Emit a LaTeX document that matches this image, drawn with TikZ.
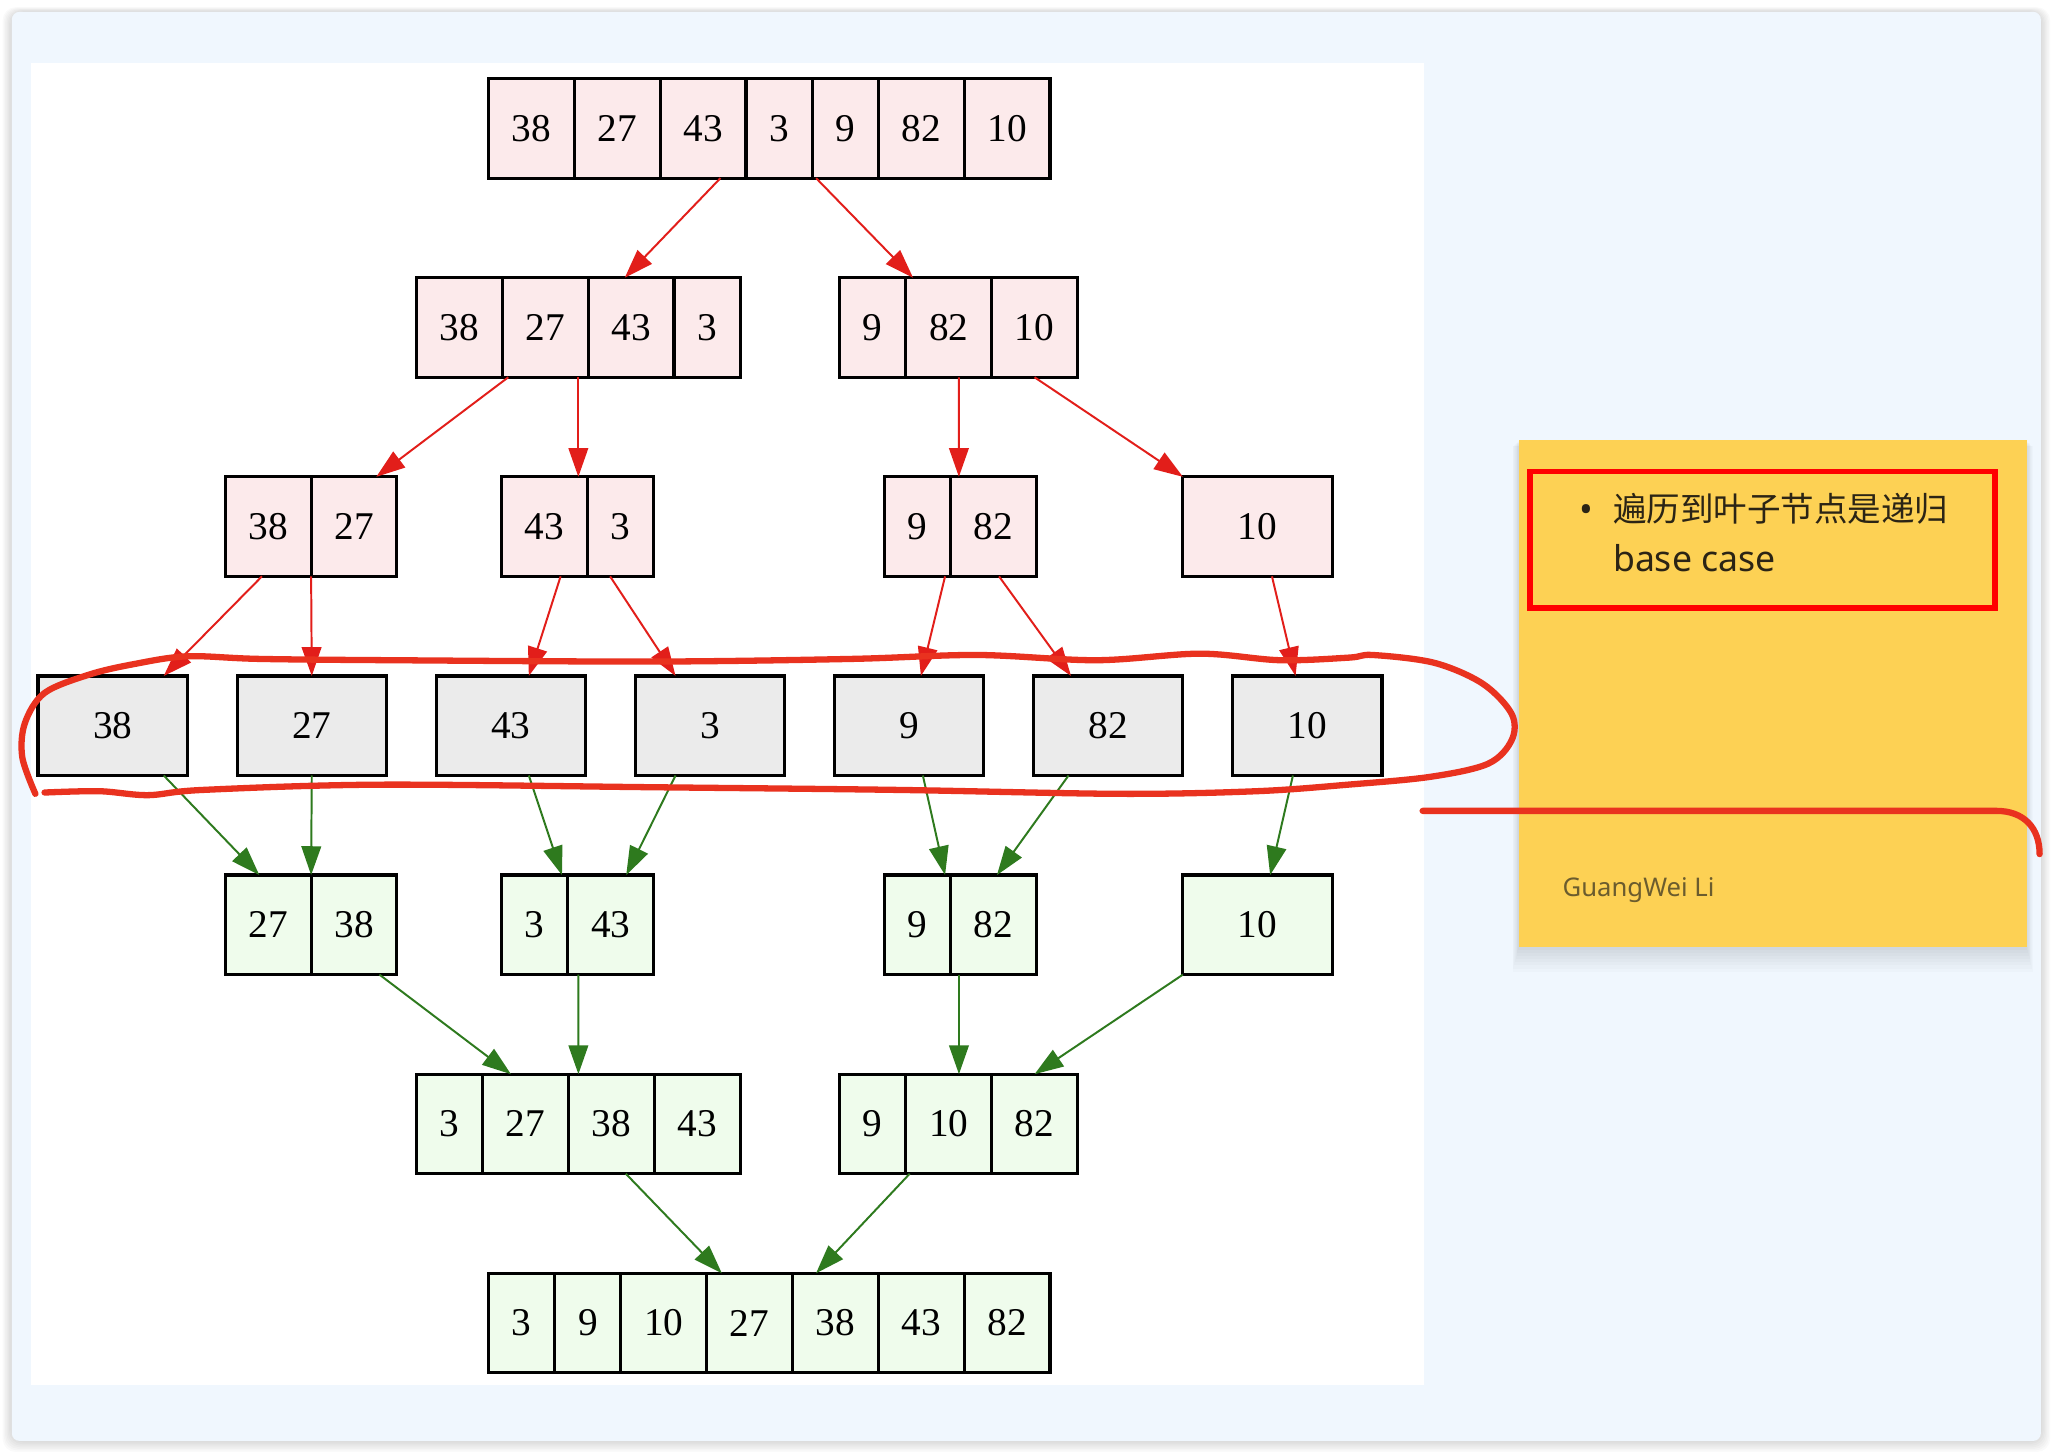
\documentclass[tikz,border=0pt]{standalone}
\usepackage{fontspec}
\setmainfont{Liberation Serif}
\newfontfamily\notefont{Noto Sans}
\newfontfamily\cjk{Noto Sans CJK SC}
\usetikzlibrary{positioning,arrows.meta}

\definecolor{bgblue}{HTML}{F0F7FE}
\definecolor{splitpink}{HTML}{FCEAEB}
\definecolor{leafgray}{HTML}{EBEBEB}
\definecolor{mergegreen}{HTML}{EFFCEC}
\definecolor{splitline}{HTML}{E21E1A}
\definecolor{mergeline}{HTML}{2E7A1E}
\definecolor{stickyyellow}{HTML}{FDD154}
\definecolor{inkred}{HTML}{E9321F}
\definecolor{notetext}{HTML}{2B2415}
\definecolor{authortext}{HTML}{6B5C2E}

\tikzset{
  cell/.style={draw, line width=1.2pt, minimum height=38pt, inner sep=0pt, outer sep=0pt,
    font=\fontsize{15}{16}\selectfont},
  widecell/.style={cell, minimum width=32.75pt},
  narrowcell/.style={cell, minimum width=25.25pt},
  widebox/.style={cell, minimum width=57pt},
  splitarrow/.style={draw=splitline, line width=0.75pt, -{Triangle[length=11pt,width=7.5pt]}},
  mergearrow/.style={draw=mergeline, line width=0.75pt, -{Triangle[length=11pt,width=7.5pt]}},
  inkstroke/.style={draw=inkred, line width=2.4pt, line cap=round, line join=round}
}

\begin{document}
\begin{tikzpicture}[x=0.5pt, y=-0.5pt]
  \useasboundingbox (0,0) rectangle (1568,1108);

  % window frame and panel
  \foreach \s in {1,...,7}
    \fill[black, opacity=0.018, rounded corners=5pt] ({9-\s},{9-0.5*\s}) rectangle ({1558+\s},{1100+1.2*\s});
  \fill[bgblue, rounded corners=3pt] (9,9) rectangle (1558,1100);
  \fill[white] (24,48) rectangle (1087,1057);

  % splitting half
  \begin{scope}[every node/.append style={fill=splitpink}]
    \node[widecell, anchor=north west] (T1) at (373,60) {38};
    \node[widecell, right=0pt of T1] (T2) {27};
    \node[widecell, right=0pt of T2] (T3) {43};
    \node[narrowcell, right=0pt of T3] (T4) {3};
    \node[narrowcell, right=0pt of T4] (T5) {9};
    \node[widecell, right=0pt of T5] (T6) {82};
    \node[widecell, right=0pt of T6] (T7) {10};

    \node[widecell, anchor=north west] (L1) at (318,212) {38};
    \node[widecell, right=0pt of L1] (L2) {27};
    \node[widecell, right=0pt of L2] (L3) {43};
    \node[narrowcell, right=0pt of L3] (L4) {3};
    \node[narrowcell, anchor=north west] (R1) at (641,212) {9};
    \node[widecell, right=0pt of R1] (R2) {82};
    \node[widecell, right=0pt of R2] (R3) {10};

    \node[widecell, anchor=north west] (A1) at (172,364) {38};
    \node[widecell, right=0pt of A1] (A2) {27};
    \node[widecell, anchor=north west] (B1) at (383,364) {43};
    \node[narrowcell, right=0pt of B1] (B2) {3};
    \node[narrowcell, anchor=north west] (C1) at (675,364) {9};
    \node[widecell, right=0pt of C1] (C2) {82};
    \node[widebox, anchor=north west] (D1) at (903,364) {10};
  \end{scope}

  % leaves
  \foreach \v [count=\i] in {38,27,43,3,9,82,10}
    \node[widebox, fill=leafgray, anchor=north west] (X\i) at ({29+152*(\i-1)},516) {\v};

  % merging half
  \begin{scope}[every node/.append style={fill=mergegreen}]
    \node[widecell, anchor=north west] (E1) at (172,668) {27};
    \node[widecell, right=0pt of E1] (E2) {38};
    \node[narrowcell, anchor=north west] (F1) at (383,668) {3};
    \node[widecell, right=0pt of F1] (F2) {43};
    \node[narrowcell, anchor=north west] (G1) at (675,668) {9};
    \node[widecell, right=0pt of G1] (G2) {82};
    \node[widebox, anchor=north west] (H1) at (903,668) {10};

    \node[narrowcell, anchor=north west] (M1) at (318,820) {3};
    \node[widecell, right=0pt of M1] (M2) {27};
    \node[widecell, right=0pt of M2] (M3) {38};
    \node[widecell, right=0pt of M3] (M4) {43};
    \node[narrowcell, anchor=north west] (N1) at (641,820) {9};
    \node[widecell, right=0pt of N1] (N2) {10};
    \node[widecell, right=0pt of N2] (N3) {82};

    \node[narrowcell, anchor=north west] (S1) at (373,972) {3};
    \node[narrowcell, right=0pt of S1] (S2) {9};
    \node[widecell, right=0pt of S2] (S3) {10};
    \node[widecell, right=0pt of S3] (S4) {27};
    \node[widecell, right=0pt of S4] (S5) {38};
    \node[widecell, right=0pt of S5] (S6) {43};
    \node[widecell, right=0pt of S6] (S7) {82};
  \end{scope}

  % split edges
  \draw[splitarrow] ([xshift=6.6pt]T3.south) -- ([xshift=-2.4pt]L3.north);
  \draw[splitarrow] ([xshift=1.5pt]T4.south east) -- ([xshift=2.75pt]R1.north east);
  \draw[splitarrow] ([xshift=2.25pt]L1.south east) -- ([xshift=8.5pt]A2.north);
  \draw[splitarrow] ([xshift=-3.75pt]L2.south east) -- ([xshift=-3.5pt]B1.north east);
  \draw[splitarrow] ([xshift=3.9pt]R2.south) -- ([xshift=3.25pt]C1.north east);
  \draw[splitarrow] (R3.south) -- (D1.north west);
  \draw[splitarrow] ([xshift=-2.4pt]A1.south) -- ([xshift=-9pt]X1.north east);
  \draw[splitarrow] (A1.south east) -- (X2.north);
  \draw[splitarrow] ([xshift=6.1pt]B1.south) -- ([xshift=6.85pt]X3.north);
  \draw[splitarrow] ([xshift=-4pt]B2.south) -- ([xshift=-13.15pt]X4.north);
  \draw[splitarrow] ([xshift=10.6pt]C1.south) -- ([xshift=4.5pt]X5.north);
  \draw[splitarrow] ([xshift=2.2pt]C2.south) -- ([xshift=-14.2pt]X6.north);
  \draw[splitarrow] ([xshift=5.5pt]D1.south) -- ([xshift=-4.5pt]X7.north);

  % merge edges
  \draw[mergearrow] ([xshift=19.5pt]X1.south) -- ([xshift=-3.4pt]E1.north);
  \draw[mergearrow] (X2.south) -- (E2.north west);
  \draw[mergearrow] ([xshift=6.85pt]X3.south) -- ([xshift=-2.25pt]F1.north east);
  \draw[mergearrow] ([xshift=-13.15pt]X4.south) -- ([xshift=5.9pt]F2.north);
  \draw[mergearrow] ([xshift=5.25pt]X5.south) -- ([xshift=10.6pt]G1.north);
  \draw[mergearrow] ([xshift=-15.15pt]X6.south) -- ([xshift=1.4pt]G2.north);
  \draw[mergearrow] ([xshift=-5.5pt]X7.south) -- ([xshift=4.8pt]H1.north);
  \draw[mergearrow] ([xshift=9.7pt]E2.south) -- ([xshift=-5.6pt]M2.north);
  \draw[mergearrow] ([xshift=-12.4pt]F2.south) -- ([xshift=-12.6pt]M3.north);
  \draw[mergearrow] ([xshift=-13.1pt]G2.south) -- ([xshift=3.9pt]N2.north);
  \draw[mergearrow] (H1.south west) -- (N3.north);
  \draw[mergearrow] ([xshift=5.5pt]M3.south) -- ([xshift=-10.6pt]S4.north);
  \draw[mergearrow] ([xshift=-14.9pt]N2.south) -- ([xshift=-7.4pt]S5.north);

  % sticky note
  \foreach \s in {1,...,8}
    \fill[black, opacity=0.015] ({1159.5-0.6*\s},{336+0.6*\s}) rectangle ({1547+0.6*\s},{722.6+2.4*\s});
  \fill[stickyyellow] (1159.5,336) rectangle (1547,722.6);
  \draw[red, line width=2.15pt] (1168,360) rectangle (1523,464);
  \node[anchor=base, inner sep=0pt, text=notetext, font=\notefont\fontsize{14}{16}\selectfont] (bul) at (1211,399) {•};
  \node[anchor=base west, inner sep=0pt, text=notetext, font=\cjk\fontsize{12.8}{15}\selectfont] (line1) at (1231,398) {遍历到叶子节点是递归};
  \node[anchor=base west, inner sep=0pt, text=notetext, font=\notefont\fontsize{13.6}{16}\selectfont] (line2) at (1231,436) {base case};
  \node[anchor=base west, inner sep=0pt, text=authortext, font=\notefont\fontsize{9.8}{12}\selectfont] (author) at (1192.5,684.5) {GuangWei Li};

  % hand drawn marks
  \draw[inkstroke] plot[smooth, tension=0.55] coordinates {(27,606) (17,578) (19,552) (34,529) (68,515)
    (102,507) (143,501) (198,503) (300,504) (502,505) (650,503) (746,500) (837,504) (916,499)
    (977,504) (1030,502) (1048,500) (1095,506) (1132,522) (1154,545) (1154,565) (1136,583)
    (1092,593) (1029,599) (959,604) (855,606) (685,603) (502,601) (289,599) (155,603) (113,607)
    (76,604) (34,605)};
  \draw[inkstroke] (1086,619) -- (1524,619) .. controls (1545,619) and (1557,632) .. (1557,652);
\end{tikzpicture}
\end{document}
